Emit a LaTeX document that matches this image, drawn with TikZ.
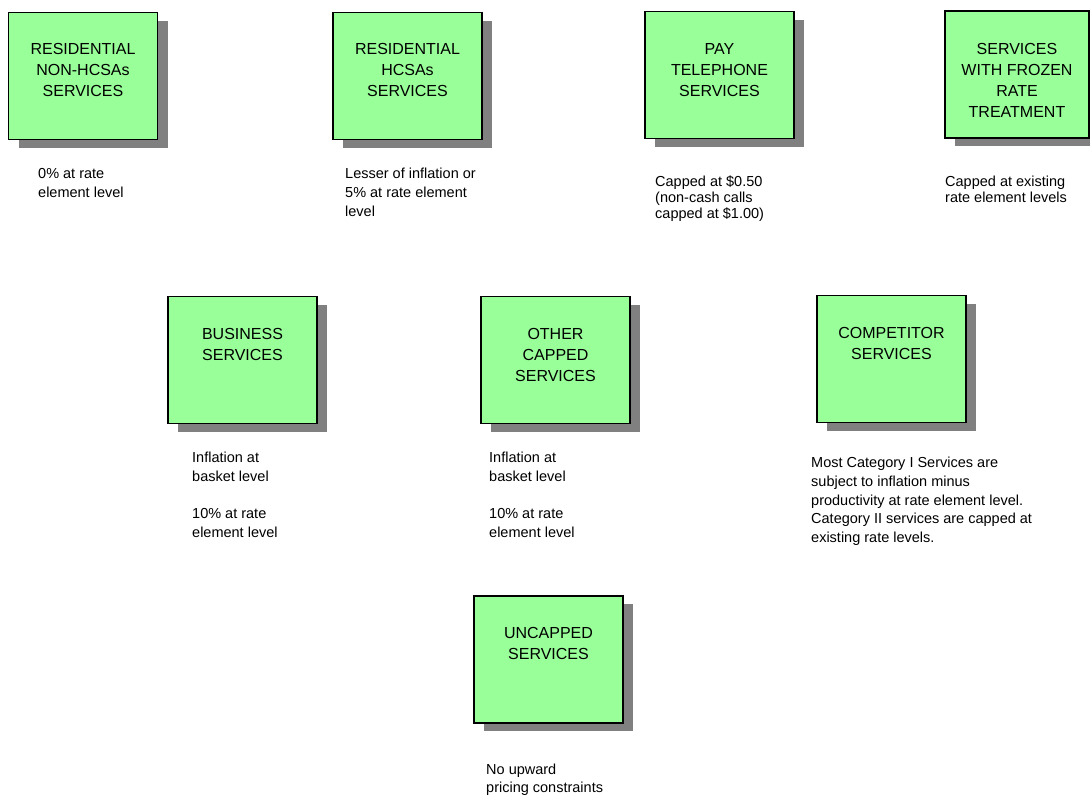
\documentclass[tikz,border=0pt]{standalone}
\usepackage{fontspec}
\setmainfont{Liberation Sans}
\usetikzlibrary{positioning,shadows}
\definecolor{boxgreen}{HTML}{99FF99}
\definecolor{shadowgray}{HTML}{808080}

\begin{document}
\begin{tikzpicture}[x=1pt, y=-1pt,
    svcbox/.style={rectangle, draw=black, line width=1.3pt, fill=boxgreen,
        minimum width=149pt, minimum height=127pt, inner sep=0pt,
        drop shadow={shadow xshift=10pt, shadow yshift=-8pt, opacity=1, fill=shadowgray}},
    boxtext/.style={inner sep=0pt, align=center, font=\fontsize{16}{21}\selectfont},
    note/.style={anchor=north west, inner sep=0pt, align=left, font=\fontsize{14.5}{18.7}\selectfont},
    tightnote/.style={note, font=\fontsize{14.5}{15.7}\selectfont}]

        \useasboundingbox (0,0) rectangle (1090,796);

        % --- Top row ---
        \node[svcbox] (resnon) at (83,76) {};
        \node[svcbox] (reshc) at (407.5,76) {};
        \node[svcbox] (payphone) at (719.5,75) {};
        \node[svcbox, minimum width=144pt] (frozen) at (1017,74.5) {};

        \node[boxtext, below=31pt of resnon.north] (resnonT) {RESIDENTIAL\\NON-HCSAs\\SERVICES};
        \node[boxtext, below=31pt of reshc.north] (reshcT) {RESIDENTIAL\\HCSAs\\SERVICES};
        \node[boxtext, below=32pt of payphone.north] (payphoneT) {PAY\\TELEPHONE\\SERVICES};
        \node[boxtext, below=33pt of frozen.north] (frozenT) {SERVICES\\WITH FROZEN\\RATE\\TREATMENT};

        \node[note] (resnonN) at (38,168) {0\% at rate\\element level};
        \node[note] (reshcN) at (345,168) {Lesser of inflation or\\5\% at rate element\\level};
        \node[tightnote] (payphoneN) at (655,176) {Capped at \$0.50\\(non-cash calls\\capped at \$1.00)};
        \node[tightnote] (frozenN) at (945,176) {Capped at existing\\rate element levels};

        % --- Middle row ---
        \node[svcbox] (business) at (242.5,360) {};
        \node[svcbox] (othercap) at (555.5,360) {};
        \node[svcbox] (competitor) at (891.5,359) {};

        \node[boxtext, below=32pt of business.north] (businessT) {BUSINESS\\SERVICES};
        \node[boxtext, below=32pt of othercap.north] (othercapT) {OTHER\\CAPPED\\SERVICES};
        \node[boxtext, below=32pt of competitor.north] (competitorT) {COMPETITOR\\SERVICES};

        \node[note] (businessN) at (192,452) {Inflation at\\basket level\\[18.7pt]10\% at rate\\element level};
        \node[note] (othercapN) at (489,452) {Inflation at\\basket level\\[18.7pt]10\% at rate\\element level};
        \node[note] (competitorN) at (811,457) {Most Category I Services are\\subject to inflation minus\\productivity at rate element level.\\Category II services are capped at\\existing rate levels.};

        % --- Bottom row ---
        \node[svcbox] (uncapped) at (548.5,659.5) {};
        \node[boxtext, below=32pt of uncapped.north] (uncappedT) {UNCAPPED\\SERVICES};
        \node[note, font=\fontsize{14.5}{17.5}\selectfont] (uncappedN) at (486,764) {No upward\\pricing constraints};

\end{tikzpicture}
\end{document}
